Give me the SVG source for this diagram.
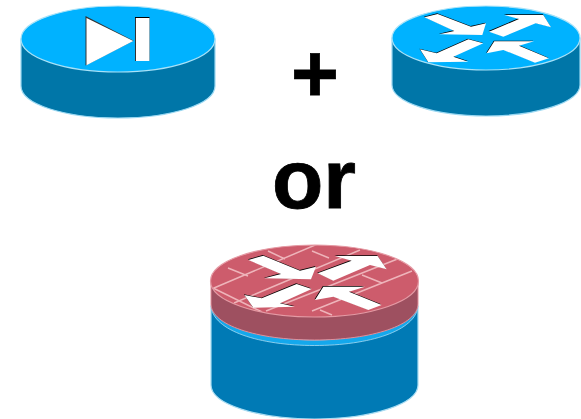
<svg xmlns="http://www.w3.org/2000/svg" width="581" height="419" viewBox="0 0 581 419">
<style>
.side{fill:#0076a8;stroke:#9ad8f2;stroke-width:1.2}
.top{fill:#00b2ff;stroke:#a8e2f8;stroke-width:1.2}
.arrow{fill:#fff}
.shade{fill:#000}
.label{font-family:"Liberation Sans",Arial,sans-serif;font-weight:700;fill:#000;stroke:#000;text-anchor:middle}
.brick{fill:none;stroke:#eeb4ba;stroke-width:1.5}
</style>
<defs>
<clipPath id="fwTop"><ellipse cx="314.5" cy="281" rx="103.5" ry="35.5"/></clipPath>
<g id="arrowsSmall">
<polygon points="118,52 158,42 258,80 303,70 292,105 163,103 208,93"/>
<polygon points="312,95 402,57 358,45 475,45 498,82 452,70 355,110"/>
<polygon points="105,148 155,160 250,118 295,130 205,170 250,185 130,187"/>
<polygon points="305,160 328,124 447,124 402,137 492,175 450,188 355,150"/>
</g>
<g id="arrowsFw">
<polygon points="130,60 175,47 285,92 333,80 318,118 178,115 228,102"/>
<polygon points="338,100 440,62 390,48 518,48 545,88 495,75 385,122"/>
<polygon points="118,165 170,175 275,132 320,147 225,190 270,200 145,203"/>
<polygon points="330,180 355,140 480,140 432,155 530,195 490,210 385,170"/>
</g>
</defs>
<g id="connectors"/>
<g id="node-vpn">
<path class="side" d="M21 39V86C21 104 64 118 118 118S215 104 215 86V39Z"/>
<ellipse class="top" cx="118" cy="39" rx="97" ry="33"/>
<polygon points="85.5,16 133.600,40.700 85.500,65.500" fill="#333"/>
<polygon points="86.5,18 133.300,40.900 86.500,65.300" class="arrow"/>
<rect x="135" y="17" width="14.500" height="44" class="shade"/>
<rect x="135.800" y="18" width="13.700" height="43" class="arrow"/>
</g>
<g id="node-router">
<path class="side" d="M392 38V85C392 102 434 116 486 116S580 102 580 85V38Z"/>
<ellipse class="top" cx="486" cy="38" rx="94" ry="32"/>
<use href="#arrowsSmall" class="shade" transform="translate(384.500,-0.700) scale(.3333)"/>
<use href="#arrowsSmall" class="arrow" transform="translate(385,0) scale(.3333)"/>
</g>
<g id="node-firewall">
<path d="M211 306V385C211 404 257 419 314.500 419S418 404 418 385V306Z" fill="#007ab5" stroke="#a8dcf2" stroke-width="1.200"/>
<path d="M211 306C213 331 260 345.500 314.500 345.500S416 331 418 306C400 325 360 340 314.500 340S228 325 211 306Z" fill="#14a8ec" stroke="#a8dcf2" stroke-width=".8"/>
<path d="M211 281V304C211 325 257 340 314.500 340S418 325 418 304V281Z" fill="#9e5060" stroke="#e08f9a" stroke-width="1"/>
<ellipse cx="314.500" cy="281" rx="104" ry="36" fill="#cd5c6c" stroke="#e59aa4" stroke-width="1.200"/>
<g clip-path="url(#fwTop)">
<path class="brick" d="M214 288L320 243M234 303L360 250M266 311L400 258M312 311L412 271M228 268L248 276M213 288L262 312M268 251L285 259M312 251L329 258M362 275L382 283M402 260L420 268M320 310L332 315"/>
</g>
<use href="#arrowsFw" class="shade" transform="translate(204.500,239.300) scale(.3333)"/>
<use href="#arrowsFw" class="arrow" transform="translate(205,240) scale(.3333)"/>
</g>
<g id="text-plus"><text class="label" x="315" y="101" font-size="82" stroke-width=".8">+</text></g>
<g id="text-or"><text class="label" x="314" y="208" font-size="84" stroke-width=".8">or</text></g>
</svg>
